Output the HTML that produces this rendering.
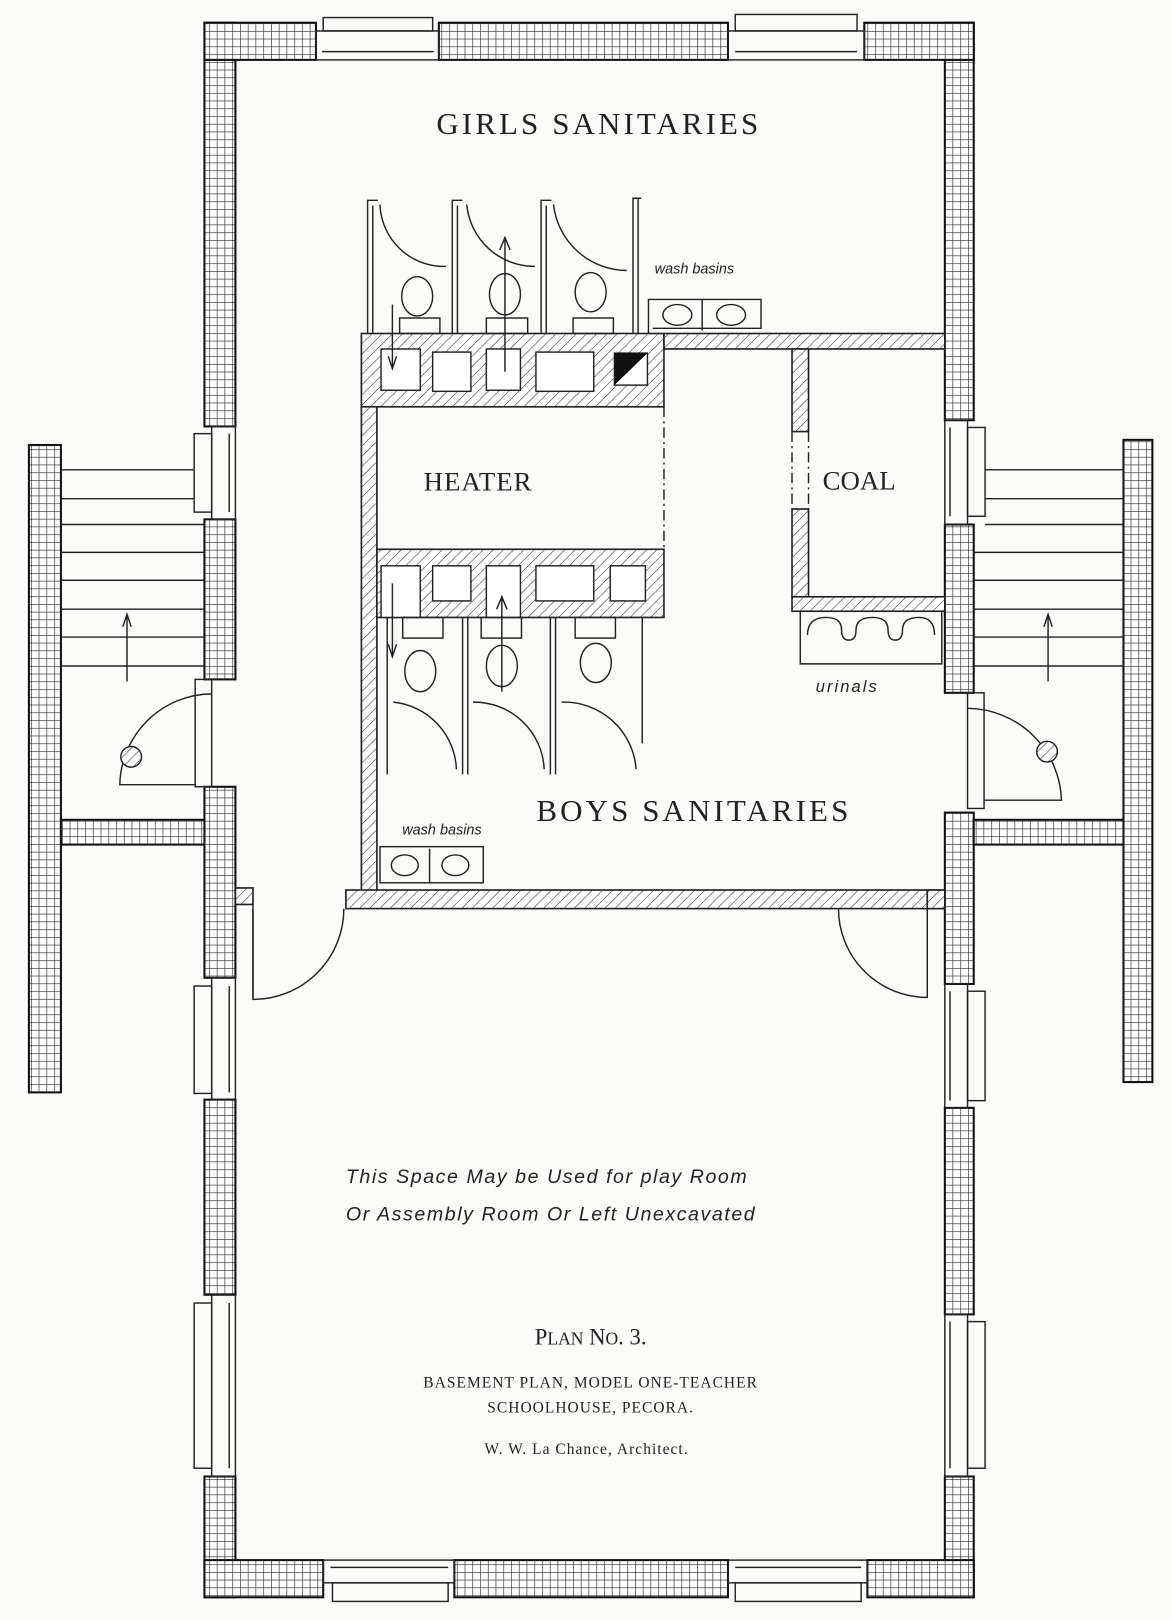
<!DOCTYPE html>
<html><head><meta charset="utf-8"><style>
html,body{margin:0;padding:0;background:#fbfbf9;}
svg{display:block}
.t{font-family:"Liberation Serif",serif;fill:#222}
.h{font-family:"Liberation Sans",sans-serif;font-style:italic;fill:#222}
</style></head><body>
<svg width="1172" height="1620" viewBox="0 0 1135 1569" preserveAspectRatio="none" xmlns="http://www.w3.org/2000/svg">
<defs>
<pattern id="b" width="7.5" height="7.5" patternUnits="userSpaceOnUse">
<rect width="7.5" height="7.5" fill="#fff"/>
<path d="M0 0H7.5M0 0V7.5" stroke="#222" stroke-width="1.2"/>
</pattern>
<pattern id="hz" width="7" height="7" patternUnits="userSpaceOnUse" patternTransform="rotate(45)">
<rect width="7" height="7" fill="#fff"/>
<line x1="0" y1="0" x2="0" y2="7" stroke="#333" stroke-width="1.1"/>
</pattern>
</defs>
<rect width="1135" height="1569" fill="#fbfbf9"/>
<g stroke="#111" stroke-width="2">
<rect x="198" y="22" width="30" height="391" fill="url(#b)"/>
<rect x="198" y="503" width="30" height="155" fill="url(#b)"/>
<rect x="198" y="762" width="30" height="185" fill="url(#b)"/>
<rect x="198" y="1065" width="30" height="189" fill="url(#b)"/>
<rect x="198" y="1430" width="30" height="117" fill="url(#b)"/>
<rect x="915" y="22" width="28" height="385" fill="url(#b)"/>
<rect x="915" y="508" width="28" height="163" fill="url(#b)"/>
<rect x="915" y="787" width="28" height="166" fill="url(#b)"/>
<rect x="915" y="1073" width="28" height="200" fill="url(#b)"/>
<rect x="915" y="1430" width="28" height="117" fill="url(#b)"/>
<rect x="198" y="22" width="108" height="36" fill="url(#b)"/>
<rect x="425" y="22" width="280" height="36" fill="url(#b)"/>
<rect x="837" y="22" width="106" height="36" fill="url(#b)"/>
<rect x="198" y="1511" width="115" height="36" fill="url(#b)"/>
<rect x="440" y="1511" width="265" height="36" fill="url(#b)"/>
<rect x="840" y="1511" width="103" height="36" fill="url(#b)"/>
<rect x="28" y="431" width="31" height="627" fill="url(#b)"/>
<rect x="59" y="794" width="139" height="24" fill="url(#b)"/>
<rect x="1088" y="426" width="28" height="622" fill="url(#b)"/>
<rect x="943" y="794" width="145" height="24" fill="url(#b)"/>
</g>
<g fill="none" stroke="#222" stroke-width="1.4">
<rect x="306" y="30" width="119" height="28"/><line x1="312" y1="50" x2="420" y2="50"/>
<rect x="313" y="17" width="106" height="13"/>
<rect x="705" y="30" width="132" height="28"/><line x1="712" y1="50" x2="830" y2="50"/>
<rect x="712" y="14" width="118" height="16"/>
<rect x="313" y="1511" width="127" height="22"/><line x1="320" y1="1518" x2="434" y2="1518"/>
<rect x="322" y="1533" width="112" height="18"/>
<rect x="705" y="1511" width="135" height="22"/><line x1="712" y1="1518" x2="834" y2="1518"/>
<rect x="712" y="1533" width="122" height="18"/>
<rect x="205" y="413" width="23" height="90"/><line x1="222" y1="420" x2="222" y2="496"/><rect x="188" y="420" width="17" height="76"/>
<rect x="205" y="947" width="23" height="118"/><line x1="222" y1="955" x2="222" y2="1058"/><rect x="188" y="955" width="17" height="104"/>
<rect x="205" y="1254" width="23" height="176"/><line x1="222" y1="1262" x2="222" y2="1422"/><rect x="188" y="1262" width="17" height="160"/>
<rect x="915" y="407" width="22" height="101"/><line x1="920" y1="414" x2="920" y2="500"/><rect x="937" y="414" width="17" height="86"/>
<rect x="915" y="953" width="22" height="120"/><line x1="920" y1="960" x2="920" y2="1066"/><rect x="937" y="960" width="17" height="106"/>
<rect x="915" y="1273" width="22" height="157"/><line x1="920" y1="1280" x2="920" y2="1422"/><rect x="937" y="1280" width="17" height="142"/>
<line x1="59" y1="455" x2="188" y2="455"/><line x1="59" y1="483" x2="188" y2="483"/><line x1="59" y1="508" x2="198" y2="508"/>
<line x1="59" y1="535" x2="198" y2="535"/><line x1="59" y1="562" x2="198" y2="562"/><line x1="59" y1="590" x2="198" y2="590"/>
<line x1="59" y1="617" x2="198" y2="617"/><line x1="59" y1="645" x2="198" y2="645"/>
<line x1="123" y1="660" x2="123" y2="595"/><path d="M119 607L123 595L127 607"/>
<rect x="189" y="658" width="16" height="104"/>
<path d="M205 672A90 90 0 0 0 116 760H189"/>
<line x1="954" y1="455" x2="1088" y2="455"/><line x1="954" y1="483" x2="1088" y2="483"/><line x1="954" y1="508" x2="1088" y2="508"/>
<line x1="943" y1="535" x2="1088" y2="535"/><line x1="943" y1="562" x2="1088" y2="562"/><line x1="943" y1="590" x2="1088" y2="590"/>
<line x1="943" y1="617" x2="1088" y2="617"/><line x1="943" y1="645" x2="1088" y2="645"/>
<line x1="1015" y1="660" x2="1015" y2="595"/><path d="M1011 607L1015 595L1019 607"/>
<rect x="937" y="671" width="16" height="112"/>
<path d="M937 686A92 92 0 0 1 1028 775H953"/>
</g>
<circle cx="127" cy="733" r="10" fill="url(#hz)" stroke="#222" stroke-width="1.4"/>
<circle cx="1014" cy="728" r="10" fill="url(#hz)" stroke="#222" stroke-width="1.4"/>
<g stroke="#222" stroke-width="1.6">
<rect x="350" y="323" width="293" height="71" fill="url(#hz)"/>
<rect x="643" y="323" width="272" height="15" fill="url(#hz)"/>
<rect x="350" y="394" width="15" height="470" fill="url(#hz)"/>
<rect x="365" y="532" width="278" height="66" fill="url(#hz)"/>
<rect x="767" y="338" width="16" height="80" fill="url(#hz)"/>
<rect x="767" y="493" width="16" height="85" fill="url(#hz)"/>
<rect x="767" y="578" width="148" height="14" fill="url(#hz)"/>
<rect x="335" y="862" width="580" height="18" fill="url(#hz)"/>
<rect x="228" y="860" width="17" height="16" fill="url(#hz)"/>
<rect x="898" y="862" width="17" height="18" fill="url(#hz)"/>
</g>
<g fill="#fff" stroke="#222" stroke-width="1.4">
<rect x="369" y="338" width="38" height="40"/><rect x="419" y="341" width="37" height="38"/>
<rect x="471" y="338" width="33" height="40"/><rect x="519" y="341" width="56" height="38"/>
<rect x="595" y="342" width="32" height="31"/>
<rect x="369" y="548" width="38" height="50"/><rect x="419" y="548" width="37" height="34"/>
<rect x="471" y="548" width="33" height="50"/><rect x="519" y="548" width="56" height="34"/>
<rect x="591" y="548" width="34" height="34"/>
</g>
<path d="M595 342H627L595 373Z" fill="#111"/>
<g fill="none" stroke="#222" stroke-width="1.4">
<line x1="643" y1="394" x2="643" y2="532" stroke-dasharray="10 4 2 4"/>
<line x1="767" y1="418" x2="767" y2="493" stroke-dasharray="10 4 2 4"/>
<line x1="783" y1="418" x2="783" y2="493" stroke-dasharray="10 4 2 4"/>
<path d="M356 323V194H366M361 323V199"/>
<path d="M438 323V194H448M443 323V199"/>
<path d="M524 323V194H534M529 323V199"/>
<path d="M613 323V192H621M618 323V192"/>
<path d="M368 198A62 62 0 0 0 432 258"/>
<path d="M452 198A66 66 0 0 0 518 258"/>
<path d="M536 198A72 72 0 0 0 607 262"/>
<ellipse cx="404" cy="287" rx="15" ry="19"/><ellipse cx="489" cy="285" rx="15" ry="20"/><ellipse cx="572" cy="283" rx="15" ry="19"/>
<rect x="387" y="308" width="39" height="15"/><rect x="471" y="308" width="40" height="15"/><rect x="555" y="308" width="39" height="15"/>
<path d="M628 323V290H737V318H632"/><line x1="680" y1="290" x2="680" y2="320"/>
<ellipse cx="656" cy="305" rx="14" ry="10"/><ellipse cx="708" cy="305" rx="14" ry="10"/>
<line x1="489" y1="360" x2="489" y2="230"/><path d="M484 242L489 230L494 242"/>
<line x1="380" y1="295" x2="380" y2="355"/><path d="M376 345L380 357L384 345"/>
<path d="M375 598V750M448 598V750M453 598V750M533 598V750M538 598V750M622 598V720"/>
<path d="M381 680A68 68 0 0 1 442 745"/>
<path d="M458 680A68 68 0 0 1 527 745"/>
<path d="M544 680A70 70 0 0 1 616 745"/>
<ellipse cx="407" cy="650" rx="15" ry="20"/><ellipse cx="486" cy="645" rx="15" ry="20"/><ellipse cx="577" cy="642" rx="15" ry="19"/>
<rect x="390" y="598" width="39" height="20"/><rect x="466" y="598" width="39" height="20"/><rect x="557" y="598" width="39" height="20"/>
<line x1="486" y1="670" x2="486" y2="578"/><path d="M481 590L486 578L491 590"/>
<line x1="380" y1="565" x2="380" y2="635"/><path d="M376 624L380 636L384 624"/>
<rect x="368" y="820" width="100" height="35"/><line x1="416" y1="822" x2="416" y2="855"/>
<ellipse cx="392" cy="838" rx="13" ry="10"/><ellipse cx="441" cy="838" rx="13" ry="10"/>
<path d="M775 592V643H912V592"/>
<path d="M782 615Q782 598 800 598Q815 598 815 610Q815 620 822 620Q829 620 829 610Q829 598 845 598Q860 598 860 610Q860 620 867 620Q874 620 874 610Q874 598 890 598Q905 598 905 615"/>
<path d="M333 880A88 88 0 0 1 245 968V880"/>
<line x1="245" y1="876" x2="245" y2="968"/>
<path d="M812 880A86 86 0 0 0 898 966V880"/>
</g>
<text x="580" y="130" text-anchor="middle" class="t" font-size="30" letter-spacing="3">GIRLS SANITARIES</text>
<text x="463" y="475" text-anchor="middle" class="t" font-size="26" letter-spacing="1">HEATER</text>
<text x="832" y="474" text-anchor="middle" class="t" font-size="26">COAL</text>
<text x="672" y="795" text-anchor="middle" class="t" font-size="30" letter-spacing="3">BOYS SANITARIES</text>
<text x="634" y="265" class="h" font-size="14">wash basins</text>
<text x="428" y="808" text-anchor="middle" class="h" font-size="14">wash basins</text>
<text x="790" y="670" class="h" font-size="16" letter-spacing="2">urinals</text>
<text x="335" y="1146" class="h" font-size="19" letter-spacing="1.5">This Space May be Used for play Room</text>
<text x="335" y="1182" class="h" font-size="19" letter-spacing="1.5">Or Assembly Room Or Left Unexcavated</text>
<text x="572" y="1302" text-anchor="middle" class="t" font-size="22">P<tspan font-size="17">LAN</tspan> N<tspan font-size="17">O</tspan>. 3.</text>
<text x="572" y="1344" text-anchor="middle" class="t" font-size="15" letter-spacing="1">BASEMENT PLAN, MODEL ONE-TEACHER</text>
<text x="572" y="1368" text-anchor="middle" class="t" font-size="15" letter-spacing="1">SCHOOLHOUSE, PECORA.</text>
<text x="568" y="1408" text-anchor="middle" class="t" font-size="15" letter-spacing="1">W. W. La Chance, Architect.</text>
</svg>
</body></html>
